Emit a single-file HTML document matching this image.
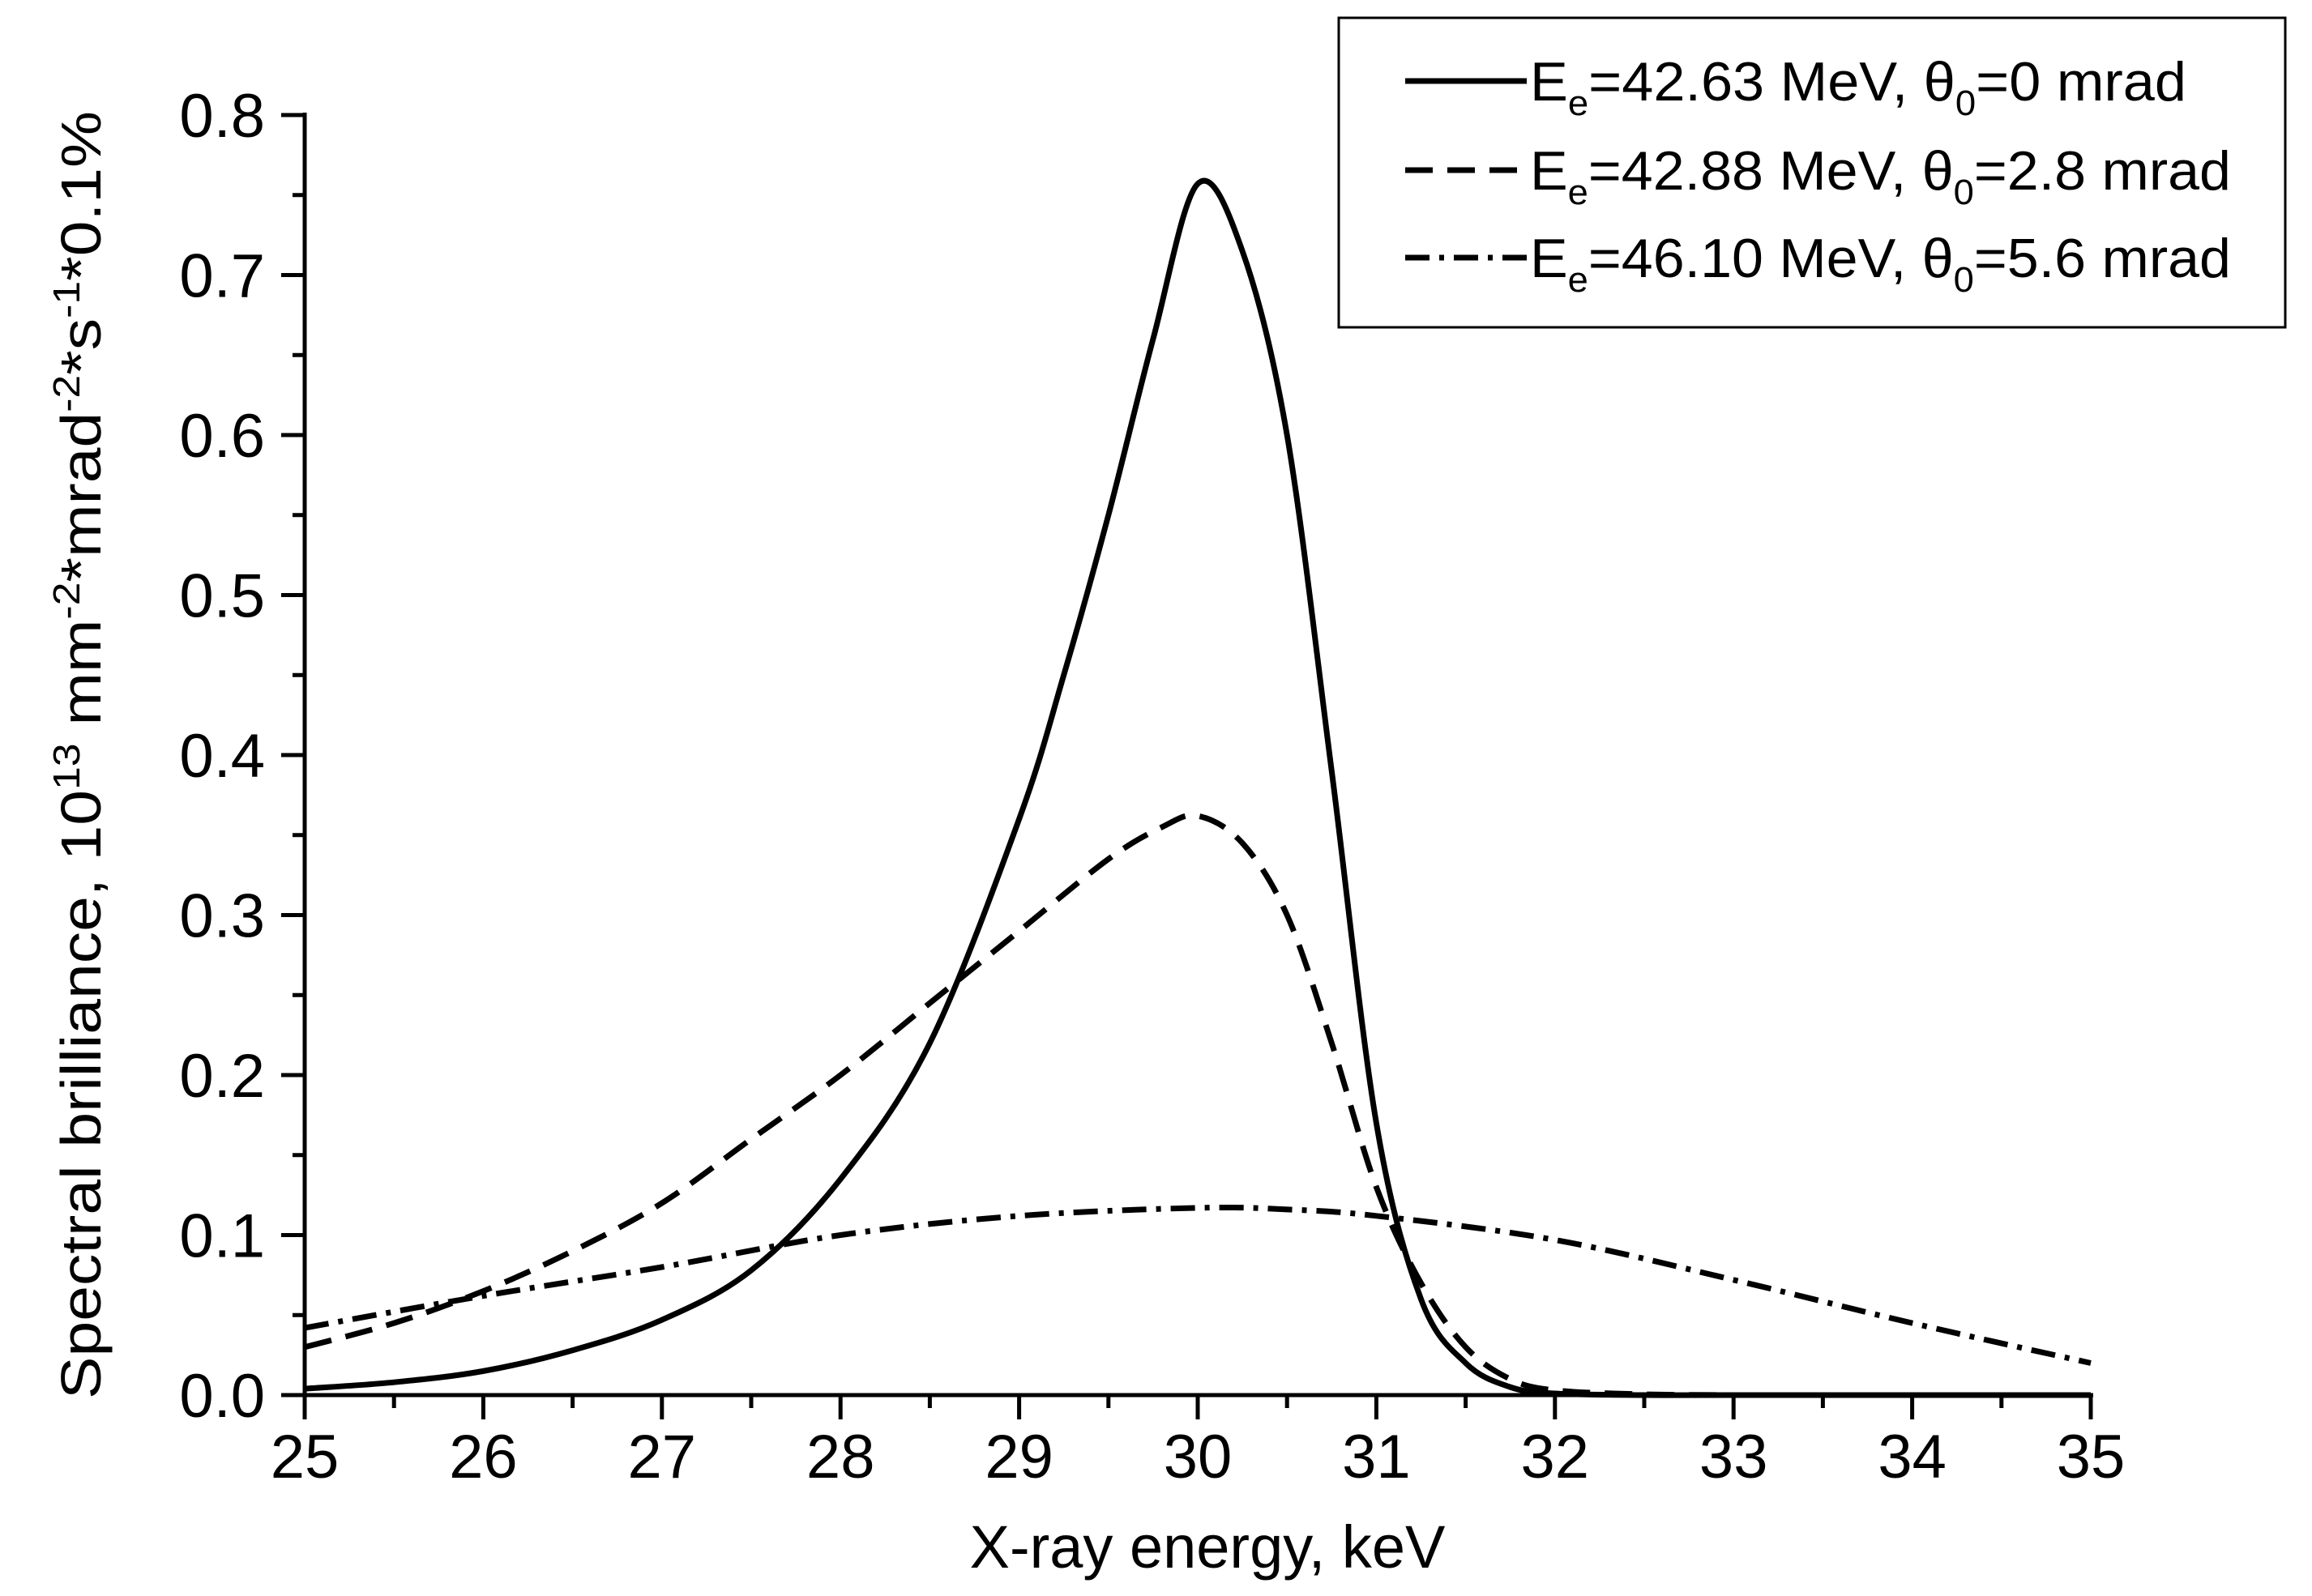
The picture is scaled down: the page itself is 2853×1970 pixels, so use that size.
<!DOCTYPE html>
<html><head><meta charset="utf-8"><style>
html,body{margin:0;padding:0;background:#fff;}
svg{display:block;font-family:"Liberation Sans",Arial,sans-serif;}
</style></head><body>
<svg id="chart" width="2853" height="1970" viewBox="0 0 2853 1970">
<rect width="2853" height="1970" fill="#fff"/>
<g id="axes"></g>
<g id="series"></g>
<text x="1490" y="1935" font-size="74" text-anchor="middle">X-ray energy, keV</text>
<text transform="translate(124,932) rotate(-90)" font-size="70" text-anchor="middle" textLength="1590" lengthAdjust="spacingAndGlyphs">Spectral brilliance, 10<tspan font-size="46" dy="-26">13</tspan><tspan dy="26"> mm</tspan><tspan font-size="46" dy="-26">-2</tspan><tspan dy="26">*mrad</tspan><tspan font-size="46" dy="-26">-2</tspan><tspan dy="26">*s</tspan><tspan font-size="46" dy="-26">-1</tspan><tspan dy="26">*0.1%</tspan></text>
<g>
<rect x="1652" y="22" width="1168" height="382" fill="#fff" stroke="#000" stroke-width="3"/>
<line x1="1734" y1="100" x2="1884" y2="100" stroke="#000" stroke-width="7"/>
<line x1="1734" y1="210" x2="1884" y2="210" stroke="#000" stroke-width="7" stroke-dasharray="34,18"/>
<line x1="1734" y1="318" x2="1884" y2="318" stroke="#000" stroke-width="7" stroke-dasharray="30,12,6,12"/>
<text x="1888" y="124" font-size="68" textLength="810" lengthAdjust="spacingAndGlyphs">E<tspan font-size="44" dy="18">e</tspan><tspan dy="-18">=42.63 MeV, θ</tspan><tspan font-size="44" dy="18">0</tspan><tspan dy="-18">=0 mrad</tspan></text>
<text x="1888" y="234" font-size="68" textLength="865" lengthAdjust="spacingAndGlyphs">E<tspan font-size="44" dy="18">e</tspan><tspan dy="-18">=42.88 MeV, θ</tspan><tspan font-size="44" dy="18">0</tspan><tspan dy="-18">=2.8 mrad</tspan></text>
<text x="1888" y="342" font-size="68" textLength="865" lengthAdjust="spacingAndGlyphs">E<tspan font-size="44" dy="18">e</tspan><tspan dy="-18">=46.10 MeV, θ</tspan><tspan font-size="44" dy="18">0</tspan><tspan dy="-18">=5.6 mrad</tspan></text>
</g>
</svg>
<script>
const xTicks = [25,26,27,28,29,30,31,32,33,34,35];
const yTicks = [0.0,0.1,0.2,0.3,0.4,0.5,0.6,0.7,0.8];
const solidX = [25,25.5,26,26.5,27,27.5,28,28.5,29,29.25,29.5,29.75,30.0,30.25,30.5,30.75,31,31.25,31.5,31.75,32,32.5,33,35];
const solidY = [0.004,0.008,0.015,0.028,0.047,0.078,0.135,0.22,0.36,0.45,0.55,0.66,0.757,0.715,0.6,0.39,0.17,0.06,0.02,0.005,0.001,0,0,0];
const dashX = [25,25.5,26,26.5,27,27.5,28,28.5,29,29.5,29.8,30,30.25,30.5,30.75,31,31.25,31.5,31.75,32,32.5,33];
const dashY = [0.03,0.045,0.065,0.09,0.12,0.16,0.2,0.245,0.29,0.335,0.355,0.362,0.345,0.3,0.22,0.13,0.07,0.03,0.01,0.003,0.0005,0];
const ddX = [25,26,27,28,29,30,30.5,31,32,33,34,35];
const ddY = [0.042,0.062,0.08,0.1,0.112,0.117,0.116,0.112,0.097,0.072,0.045,0.02];

const X0=376, X1=2580, Y0=1722, Y1=142;
const sx = v => X0 + (v-25)/(35-25)*(X1-X0);
const sy = v => Y0 - v/0.8*(Y0-Y1);
const NS="http://www.w3.org/2000/svg";
const axes=document.getElementById('axes'), series=document.getElementById('series');
function mk(tag, attrs, parent){const e=document.createElementNS(NS,tag);for(const k in attrs)e.setAttribute(k,attrs[k]);parent.appendChild(e);return e;}

const xa = mk('line',{x1:X0-3,y1:Y0,x2:X1+3,y2:Y0,stroke:'#000','stroke-width':5},axes);


const ya = mk('line',{x1:X0,y1:Y0+3,x2:X0,y2:Y1-3,stroke:'#000','stroke-width':5},axes);



xTicks.forEach((t,i)=>{
  const x=sx(t);
  const l=mk('line',{x1:x,y1:Y0,x2:x,y2:Y0+30,stroke:'#000','stroke-width':5},axes);
  
  
  if(i<xTicks.length-1){
    const m=mk('line',{x1:sx(t+0.5),y1:Y0,x2:sx(t+0.5),y2:Y0+16,stroke:'#000','stroke-width':5},axes);
    
    
  }
  const tx=mk('text',{x:x,y:Y0+102,'font-size':76,'text-anchor':'middle'},axes);
  tx.textContent=String(t);
  
  
});
yTicks.forEach((t,i)=>{
  const y=sy(t);
  const l=mk('line',{x1:X0-29,y1:y,x2:X0,y2:y,stroke:'#000','stroke-width':5},axes);
  
  
  if(i<yTicks.length-1){
    const m=mk('line',{x1:X0-15,y1:sy(t+0.05),x2:X0,y2:sy(t+0.05),stroke:'#000','stroke-width':5},axes);
    
    
  }
  const tx=mk('text',{x:327,y:y+27,'font-size':76,'text-anchor':'end'},axes);
  tx.textContent=t.toFixed(1);
  
  
});

function path(xs,ys){
  const p=xs.map((x,i)=>[sx(x),sy(ys[i])]);
  let d='M'+p[0][0]+','+p[0][1];
  for(let i=0;i<p.length-1;i++){
    const p0=p[Math.max(0,i-1)],p1=p[i],p2=p[i+1],p3=p[Math.min(p.length-1,i+2)];
    const c1=[p1[0]+(p2[0]-p0[0])/6,p1[1]+(p2[1]-p0[1])/6];
    const c2=[p2[0]-(p3[0]-p1[0])/6,p2[1]-(p3[1]-p1[1])/6];
    d+=' C'+c1[0]+','+c1[1]+' '+c2[0]+','+c2[1]+' '+p2[0]+','+p2[1];
  }
  return d;
}
const s1=mk('path',{d:path(solidX,solidY),fill:'none',stroke:'#000','stroke-width':7,'stroke-linejoin':'round'},series);


const s2=mk('path',{d:path(dashX,dashY),fill:'none',stroke:'#000','stroke-width':7,'stroke-dasharray':'34,18'},series);


const s3=mk('path',{d:path(ddX,ddY),fill:'none',stroke:'#000','stroke-width':7,'stroke-dasharray':'30,12,6,12'},series);


</script>
</body></html>
